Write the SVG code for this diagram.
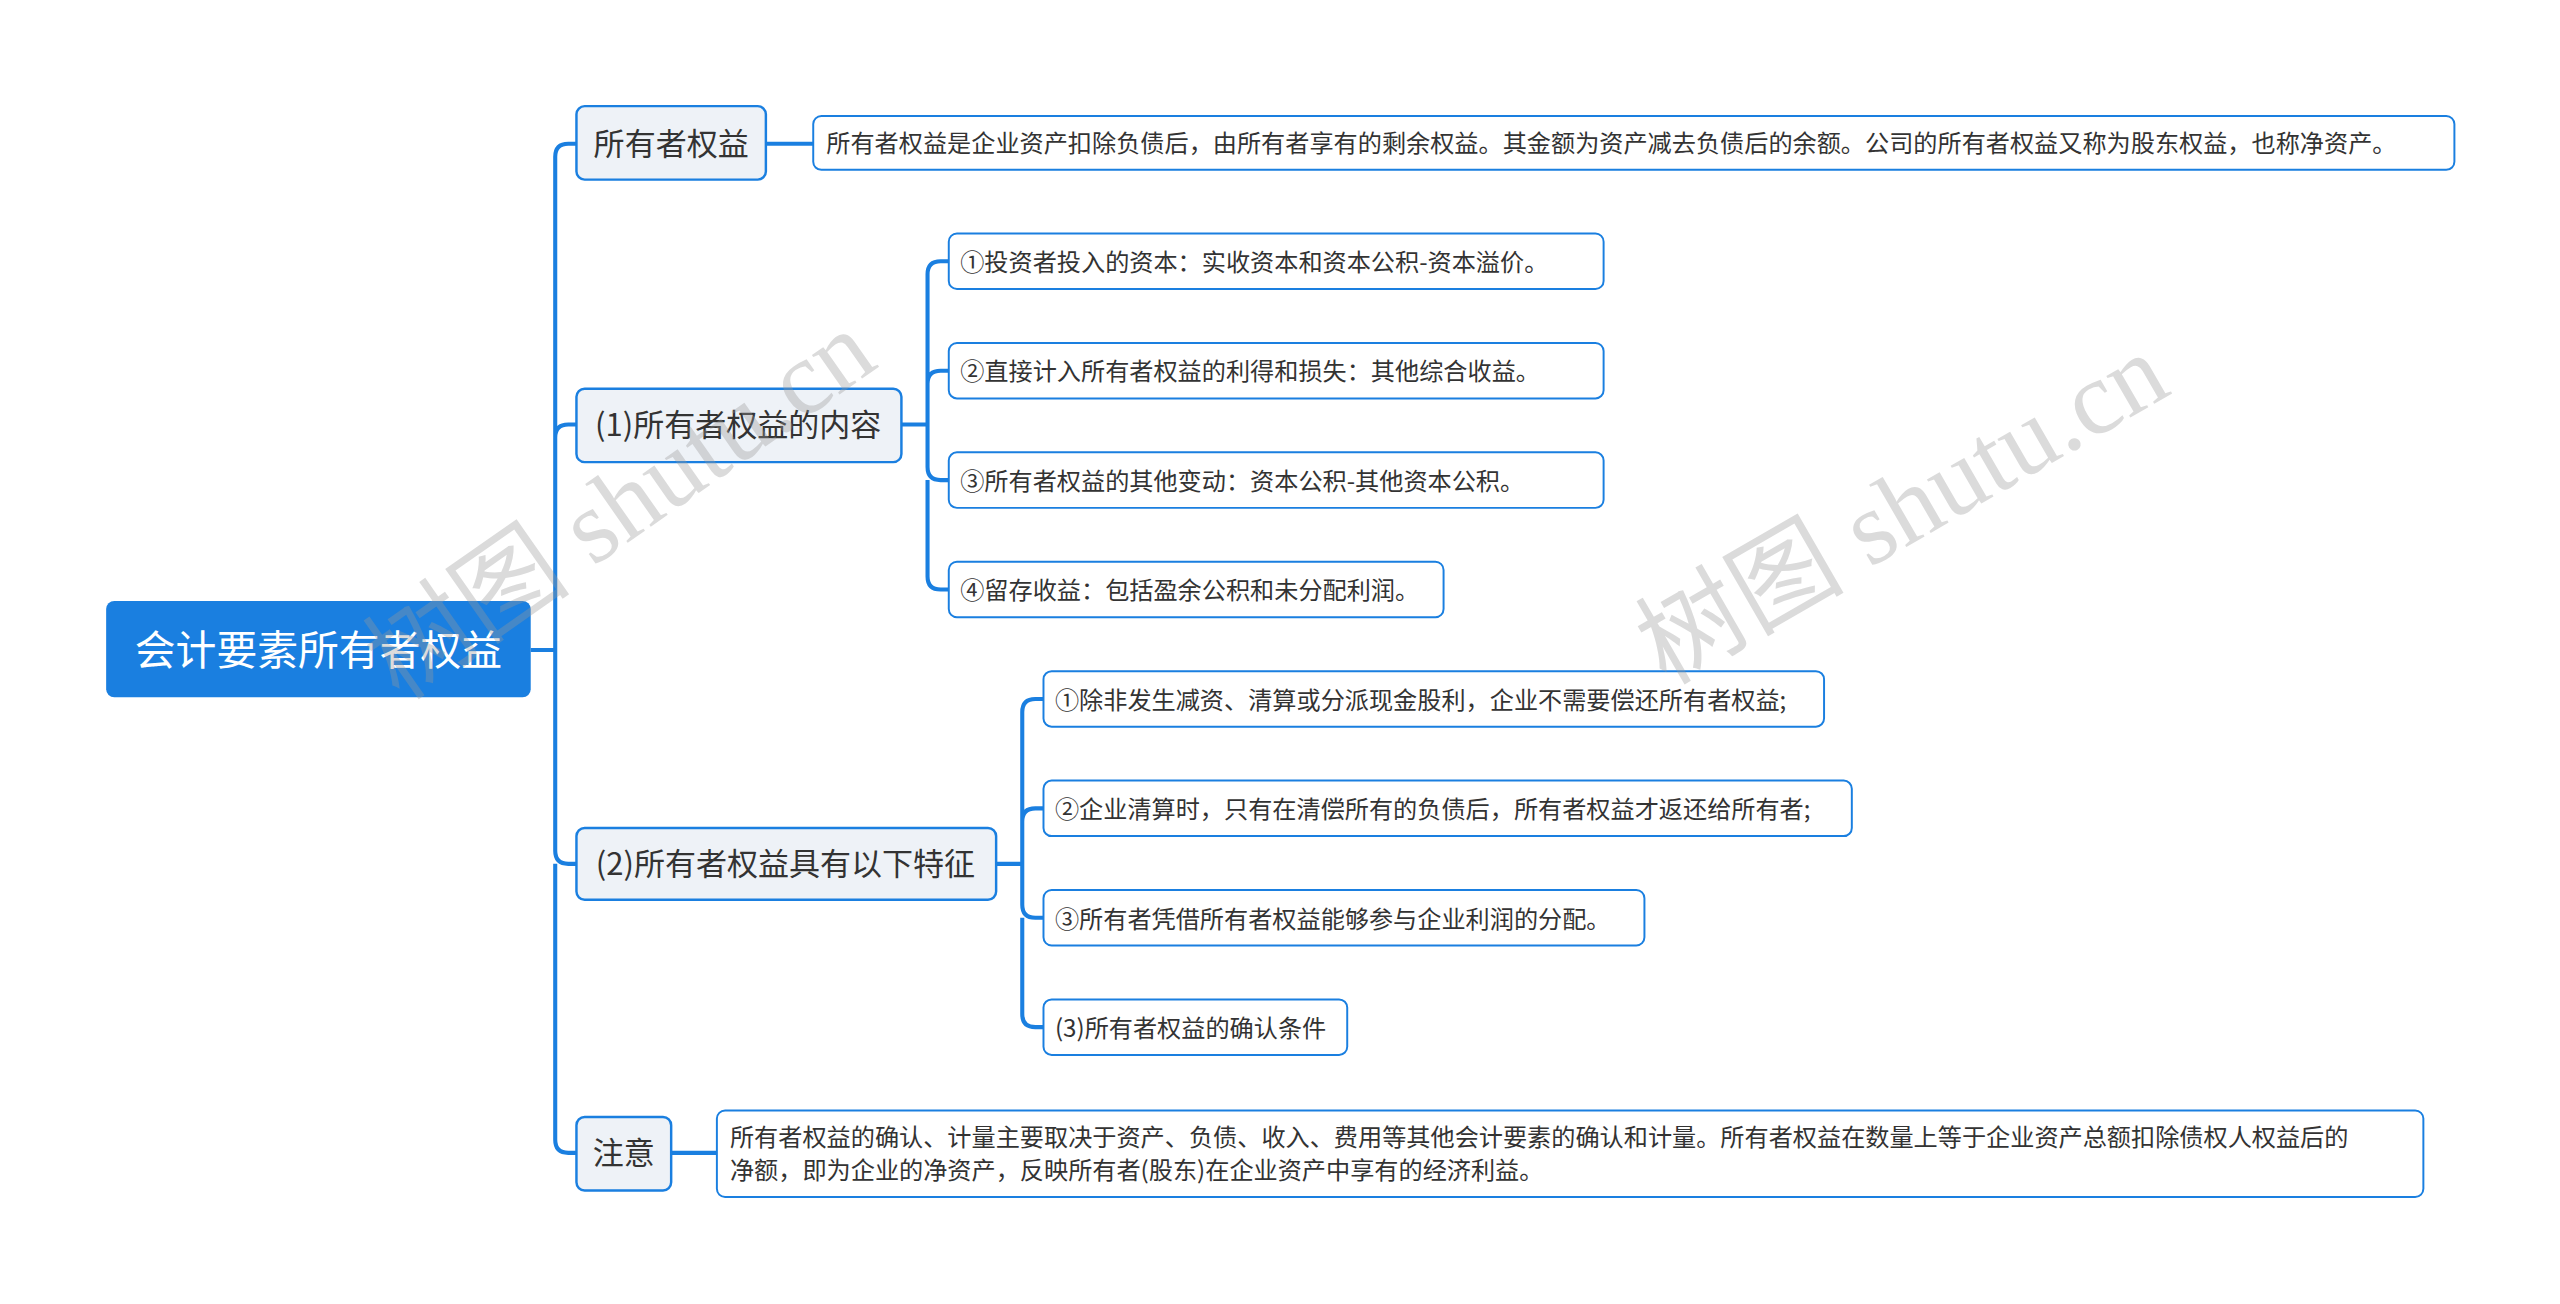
<svg xmlns="http://www.w3.org/2000/svg" width="2560" height="1304" viewBox="0 0 2560 1304">
<style>
.c{fill:none;stroke:#1a7fe0;stroke-width:2.5}
.l1{fill:#eef2f7;stroke:#1a7fe0;stroke-width:1.5}
.l2{fill:#fff;stroke:#1a7fe0;stroke-width:1.2}
text{font-family:"Noto Sans CJK SC","Noto Sans",sans-serif;fill:#333}
.t1{font-size:19px}
.t2{font-size:14.8px}
.wm{font-family:"Liberation Serif","Noto Sans CJK SC",serif;font-size:64px;fill:#999;opacity:0.35}
</style>
<rect width="2560" height="1304" fill="#fff"/>
<g transform="scale(1.633)">
<g id="connectors">
<path class="c" d="M325,398 H340 M340,398 V96 Q340,88 348,88 H353 M340,268 Q340,260 348,260 H353 M340,398 V521 Q340,529 348,529 H353 M340,529 V698 Q340,706 348,706 H353"/>
<path class="c" d="M469,88 H498"/>
<path class="c" d="M411,706 H439"/>
<path class="c" d="M552,260 H568 M568,260 V168 Q568,160 576,160 H581 M568,235 Q568,227 576,227 H581 M568,260 V286 Q568,294 576,294 H581 M568,294 V353 Q568,361 576,361 H581"/>
<path class="c" d="M610,529 H626 M626,529 V436 Q626,428 634,428 H639 M626,503 Q626,495 634,495 H639 M626,529 V554 Q626,562 634,562 H639 M626,562 V621 Q626,629 634,629 H639"/>
</g>
<g id="root"><rect x="65" y="368" width="260" height="59" rx="5" fill="#1a7fe0"/><text x="195" y="407" text-anchor="middle" font-size="25" style="fill:#fff">会计要素所有者权益</text></g>
<g id="n1"><rect class="l1" x="353" y="65" width="116" height="45" rx="5"/><text class="t1" x="411" y="95" text-anchor="middle">所有者权益</text></g>
<g id="n2"><rect class="l1" x="353" y="238" width="199" height="45" rx="5"/><text class="t1" x="452" y="267" text-anchor="middle">(1)所有者权益的内容</text></g>
<g id="n3"><rect class="l1" x="353" y="507" width="257" height="44" rx="5"/><text class="t1" x="481" y="536" text-anchor="middle">(2)所有者权益具有以下特征</text></g>
<g id="n4"><rect class="l1" x="353" y="684" width="58" height="45" rx="5"/><text class="t1" x="382" y="713" text-anchor="middle">注意</text></g>
<g id="d1"><rect class="l2" x="498" y="71" width="1005" height="33" rx="5"/><text class="t2" x="506" y="93">所有者权益是企业资产扣除负债后，由所有者享有的剩余权益。其金额为资产减去负债后的余额。公司的所有者权益又称为股东权益，也称净资产。</text></g>
<g id="a1"><rect class="l2" x="581" y="143" width="401" height="34" rx="5"/><text class="t2" x="588" y="166">①投资者投入的资本：实收资本和资本公积-资本溢价。</text></g>
<g id="a2"><rect class="l2" x="581" y="210" width="401" height="34" rx="5"/><text class="t2" x="588" y="233">②直接计入所有者权益的利得和损失：其他综合收益。</text></g>
<g id="a3"><rect class="l2" x="581" y="277" width="401" height="34" rx="5"/><text class="t2" x="588" y="300">③所有者权益的其他变动：资本公积-其他资本公积。</text></g>
<g id="a4"><rect class="l2" x="581" y="344" width="303" height="34" rx="5"/><text class="t2" x="588" y="367">④留存收益：包括盈余公积和未分配利润。</text></g>
<g id="b1"><rect class="l2" x="639" y="411" width="478" height="34" rx="5"/><text class="t2" x="646" y="434">①除非发生减资、清算或分派现金股利，企业不需要偿还所有者权益;</text></g>
<g id="b2"><rect class="l2" x="639" y="478" width="495" height="34" rx="5"/><text class="t2" x="646" y="501">②企业清算时，只有在清偿所有的负债后，所有者权益才返还给所有者;</text></g>
<g id="b3"><rect class="l2" x="639" y="545" width="368" height="34" rx="5"/><text class="t2" x="646" y="568">③所有者凭借所有者权益能够参与企业利润的分配。</text></g>
<g id="b4"><rect class="l2" x="639" y="612" width="186" height="34" rx="5"/><text class="t2" x="646" y="635">(3)所有者权益的确认条件</text></g>
<g id="d4"><rect class="l2" x="439" y="680" width="1045" height="53" rx="5"/><text class="t2" x="447" y="702">所有者权益的确认、计量主要取决于资产、负债、收入、费用等其他会计要素的确认和计量。所有者权益在数量上等于企业资产总额扣除债权人权益后的</text><text class="t2" x="447" y="722">净额，即为企业的净资产，反映所有者(股东)在企业资产中享有的经济利益。</text></g>
<text class="wm" transform="translate(245,430) rotate(-35)">树图 shutu.cn</text>
<text class="wm" transform="translate(1020,420) rotate(-30)">树图 shutu.cn</text>
</g>
</svg>
